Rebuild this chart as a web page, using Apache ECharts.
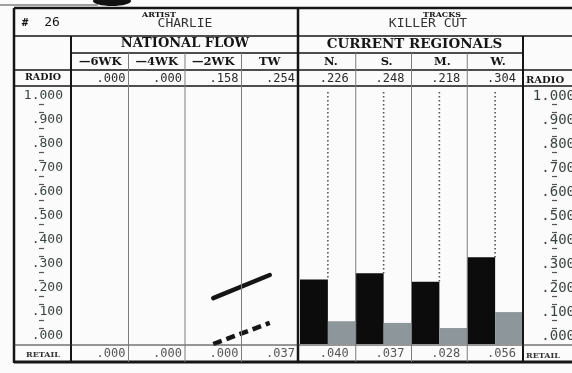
<!DOCTYPE html>
<html>
<head>
<meta charset="utf-8">
<script src="https://cdn.jsdelivr.net/npm/echarts@6/dist/echarts.min.js"></script>
<style>
  html, body { margin: 0; padding: 0; background: #ffffff; }
  #chart { width: 572px; height: 373px; }
</style>
</head>
<body>
<div id="chart"></div>
<script>
// ---- chart data ----
const chartNumber = '26';
const artist = 'CHARLIE';
const track = 'KILLER CUT';

const flowWeeks = ['—6WK', '—4WK', '—2WK', 'TW'];
const flowRadio = [0.000, 0.000, 0.158, 0.254];
const flowRetail = [0.000, 0.000, 0.000, 0.037];

const regions = ['N.', 'S.', 'M.', 'W.'];
const regionRadio = [0.226, 0.248, 0.218, 0.304];
const regionRetail = [0.040, 0.037, 0.028, 0.056];

const radioTicks = [0, 0.1, 0.2, 0.3, 0.4, 0.5, 0.6, 0.7, 0.8, 0.9, 1.0];

// ---- layout ----
const W = 572, H = 373;
const FRAME_L = 14, FRAME_T = 8;
const ROW_HEAD = 36, ROW_SUB = 53, ROW_COLS = 70, ROW_RADIO = 86;
const ROW_RETAIL = 345, FRAME_B = 362;
const NAT_L = 72, NAT_W = 226;     // national flow columns
const REG_L = 300, REG_W = 223;    // current regional columns
const DIVIDER_X = 298, RIGHT_COL_X = 523;
const DOT_TOP = 92;

const MONO = '"DejaVu Sans Mono", monospace';
const SERIF = '"DejaVu Serif", serif';
const INK = '#151515';

const fmt = v => (v >= 1 ? v.toFixed(3) : v.toFixed(3).replace(/^0/, ''));

const chart = echarts.init(document.getElementById('chart'), null, { renderer: 'canvas' });

// the flow lines only join the two most recent weeks
const recent = arr => arr.map((v, i) => (i >= arr.length - 2 ? v : null));

const hiddenCat = (grid, data) => ({ type: 'category', gridIndex: grid, data, show: false, boundaryGap: true });

const scaleAxis = (grid, fontSize, margin) => ({
  type: 'value', gridIndex: grid,
  min: radioTicks[0], max: radioTicks[radioTicks.length - 1], interval: radioTicks[1] - radioTicks[0],
  position: 'left',
  axisLine: { show: false }, axisTick: { show: false }, splitLine: { show: false },
  axisLabel: { margin, fontFamily: MONO, fontSize, color: '#3a433f', formatter: fmt }
});
const minorAxis = (grid, offset) => ({
  type: 'value', gridIndex: grid,
  min: radioTicks[0], max: radioTicks[radioTicks.length - 1], interval: radioTicks[1] - radioTicks[0],
  position: 'left', offset,
  axisLine: { show: false }, axisTick: { show: false }, splitLine: { show: false },
  axisLabel: { show: false },
  minorTick: { show: true, splitNumber: 3, length: 5, lineStyle: { color: '#555', width: 1.2 } }
});

const option = {
  backgroundColor: '#fbfbfb',
  animation: false,
  grid: [
    { left: NAT_L, width: NAT_W, top: 96, height: 240 },          // radio scale
    { left: NAT_L, width: NAT_W, bottom: 29, height: 285 },       // national retail
    { left: REG_L, width: REG_W, bottom: 29, height: 285 },       // regional bars
    { left: 576, width: 1, top: 96, height: 240 }                 // right-hand scale
  ],
  xAxis: [
    hiddenCat(0, flowWeeks),
    hiddenCat(1, flowWeeks),
    hiddenCat(2, regions),
    hiddenCat(3, ['']),
  ],
  yAxis: [
    scaleAxis(0, 13, 9),
    minorAxis(0, 28),
    { type: 'value', gridIndex: 1, min: 0, max: 0.5, show: false },
    { type: 'value', gridIndex: 2, min: 0, max: 1, show: false },
    { type: 'value', gridIndex: 2, min: 0, max: 0.5, show: false },
    scaleAxis(3, 14, 1),
    minorAxis(3, 19)
  ],
  series: [
    {
      name: 'Radio flow', type: 'line', xAxisIndex: 0, yAxisIndex: 0,
      data: recent(flowRadio), symbol: 'none', connectNulls: false,
      lineStyle: { color: INK, width: 4.5, cap: 'round' }
    },
    {
      name: 'Retail flow', type: 'line', xAxisIndex: 1, yAxisIndex: 2,
      data: recent(flowRetail), symbol: 'none', clip: false,
      lineStyle: { color: INK, width: 4.5, type: [9, 5] }
    },
    {
      name: 'Regional radio', type: 'bar', xAxisIndex: 2, yAxisIndex: 3,
      data: regionRadio, barGap: '0%', barCategoryGap: '0%',
      itemStyle: { color: '#0c0c0c' }
    },
    {
      name: 'Regional retail', type: 'bar', xAxisIndex: 2, yAxisIndex: 4,
      data: regionRetail, barGap: '0%', barCategoryGap: '0%',
      itemStyle: { color: '#8d979b' }
    },
    {
      name: 'Radio guide', type: 'custom', xAxisIndex: 2, yAxisIndex: 3,
      data: regionRadio.map((v, i) => [i, v]),
      renderItem: (params, api) => {
        const p = api.coord([api.value(0), api.value(1)]);
        return {
          type: 'line',
          shape: { x1: p[0], y1: DOT_TOP, x2: p[0], y2: p[1] },
          style: { stroke: '#4f5552', lineWidth: 1.6, lineDash: [1.4, 2.6] }
        };
      },
      z: 1
    }
  ]
};

chart.setOption(option);

// ---- table frame and text ----
const line = (x1, y1, x2, y2, w, color) => ({
  type: 'line', silent: true, z: 10,
  shape: { x1, y1, x2, y2 },
  style: { stroke: color || INK, lineWidth: w || 1 }
});
const text = (x, y, str, opts) => ({
  type: 'text', silent: true, z: 11, x, y,
  style: Object.assign({ text: str, fill: INK, align: 'center', verticalAlign: 'middle' }, opts)
});

const natColW = NAT_W / 4, regColW = REG_W / 4;
const g = [];

// stray mark above the card
g.push({ type: 'ellipse', silent: true, shape: { cx: 112, cy: 1, rx: 19, ry: 5 }, style: { fill: '#111' } });
g.push(line(0, 5, 98, 5, 1, '#444'));

// outer frame and main rules
g.push(line(FRAME_L, FRAME_T, W, FRAME_T, 2.5));
g.push(line(FRAME_L, FRAME_T, FRAME_L, FRAME_B + 1, 2.5));
g.push(line(FRAME_L, ROW_HEAD, W, ROW_HEAD, 1.5));
g.push(line(DIVIDER_X, FRAME_T, DIVIDER_X, FRAME_B + 1, 2.5));
g.push(line(NAT_L - 1, ROW_HEAD, NAT_L - 1, FRAME_B, 2));
g.push(line(RIGHT_COL_X, ROW_HEAD, RIGHT_COL_X, FRAME_B, 2));
g.push(line(NAT_L, ROW_SUB, DIVIDER_X, ROW_SUB, 1.5));
g.push(line(DIVIDER_X, ROW_SUB, RIGHT_COL_X, ROW_SUB, 1.5));
g.push(line(FRAME_L, ROW_COLS, W, ROW_COLS, 1.3));
g.push(line(FRAME_L, ROW_RADIO, W, ROW_RADIO, 1.3));
g.push(line(FRAME_L, ROW_RETAIL, W, ROW_RETAIL, 1.2, '#333'));
g.push(line(FRAME_L, FRAME_B, W, FRAME_B, 3));

// column separators
for (let i = 1; i < 4; i++) {
  g.push(line(NAT_L + i * natColW, ROW_SUB, NAT_L + i * natColW, FRAME_B, 1, '#7c7c7c'));
  g.push(line(REG_L + i * regColW, ROW_SUB, REG_L + i * regColW, FRAME_B, 1, '#7c7c7c'));
}

// header row
g.push(text(25, 23, '#', { font: 'bold 11px ' + MONO }));
g.push(text(52, 23, chartNumber, { font: '13px ' + MONO }));
g.push(text(159, 15, 'ARTIST', { font: 'bold 8px ' + SERIF }));
g.push(text(185, 24, artist, { font: '13px ' + MONO, fill: '#333' }));
g.push(text(442, 15, 'TRACKS', { font: 'bold 8px ' + SERIF }));
g.push(text(428, 24, track, { font: '13px ' + MONO, fill: '#333' }));

// section titles
g.push(text(NAT_L + NAT_W / 2, 44, 'NATIONAL FLOW', { font: 'bold 13px ' + SERIF }));
g.push(text(REG_L + REG_W / 2 + 3, 44, 'CURRENT REGIONALS', { font: 'bold 13.5px ' + SERIF }));

// column headings, radio and retail values
flowWeeks.forEach((wk, i) => {
  const cx = NAT_L + (i + 0.5) * natColW, right = NAT_L + (i + 1) * natColW - 3;
  g.push(text(cx, 62, wk, { font: 'bold 11.5px ' + SERIF }));
  g.push(text(right, 79, fmt(flowRadio[i]), { font: '12px ' + MONO, align: 'right', fill: '#2a2a2a' }));
  g.push(text(right, 354, fmt(flowRetail[i]), { font: '12px ' + MONO, align: 'right', fill: '#555' }));
});
regions.forEach((r, i) => {
  const cx = REG_L + (i + 0.5) * regColW, right = REG_L + (i + 1) * regColW - 7;
  g.push(text(cx + 3, 62, r, { font: 'bold 11.5px ' + SERIF }));
  g.push(text(right, 79, fmt(regionRadio[i]), { font: '12px ' + MONO, align: 'right', fill: '#2a2a2a' }));
  g.push(text(right, 354, fmt(regionRetail[i]), { font: '12px ' + MONO, align: 'right', fill: '#555' }));
});

// row labels
g.push(text(43, 78, 'RADIO', { font: 'bold 9.5px ' + SERIF }));
g.push(text(43, 355, 'RETAIL', { font: 'bold 8px ' + SERIF, fill: '#333' }));
g.push(text(526, 80, 'RADIO', { font: 'bold 10px ' + SERIF, align: 'left' }));
g.push(text(526, 356, 'RETAIL', { font: 'bold 8px ' + SERIF, align: 'left', fill: '#333' }));

chart.setOption({ graphic: g });
</script>
</body>
</html>
